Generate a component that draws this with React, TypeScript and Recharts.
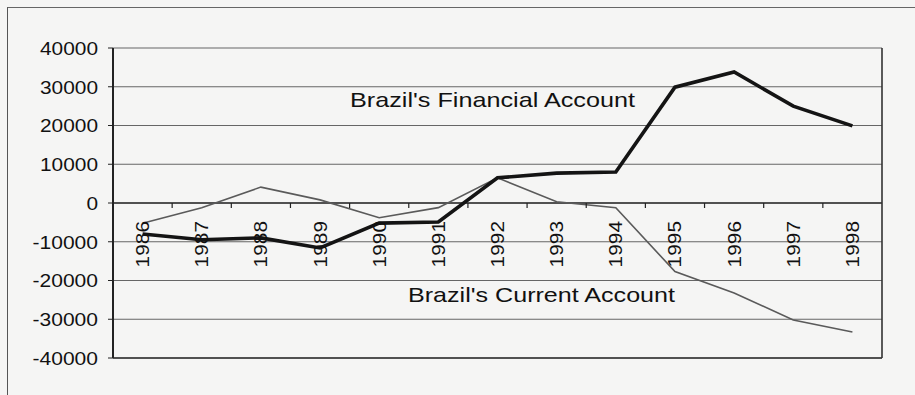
import React from 'react';
import { LineChart, Line, XAxis, YAxis, CartesianGrid, ReferenceLine } from 'recharts';

const years = ['1986', '1987', '1988', '1989', '1990', '1991', '1992', '1993', '1994', '1995', '1996', '1997', '1998'];
const financialAccount = [-8000, -9500, -9000, -11600, -5200, -4900, 6500, 7700, 8000, 29900, 33800, 25000, 19900];
const currentAccount = [-5200, -1200, 4100, 800, -3800, -1200, 6500, 300, -1200, -17700, -23200, -30200, -33300];
const yTicks = [-40000, -30000, -20000, -10000, 0, 10000, 20000, 30000, 40000];

const data = years.map((y, i) => ({ year: y, financial: financialAccount[i], current: currentAccount[i] }));

const W = 915;
const H = 395;
const TOP = 48;
const LEFT = 113;
const RIGHT = 33;
const BOTTOM = 37;
const PLOT_W = W - LEFT - RIGHT;
const PLOT_H = H - TOP - BOTTOM;
const Y_MIN = -40000;
const Y_MAX = 40000;
const ZERO_Y = TOP + (PLOT_H * Y_MAX) / (Y_MAX - Y_MIN);
const BAND = PLOT_W / years.length;
const FONT = 'Liberation Sans, Arial, sans-serif';

// scanned original is a little stretched sideways, so fit each label to its measured width
const labelWidth = (s: string) => s.replace('-', '').length * 11.6 + (s.startsWith('-') ? 7.4 : 0);

const YTick = (props: any) => {
  const { x, y, payload } = props;
  const s = String(payload.value);
  return (
    <text x={x} y={y} dy="0.36em" textAnchor="end" fontSize={19} fontFamily={FONT} fill="#111"
      textLength={labelWidth(s)} lengthAdjust="spacingAndGlyphs">
      {s}
    </text>
  );
};

// x labels sit on the zero line, not at the bottom of the plot
const XTick = (props: any) => {
  const { x, payload, index } = props;
  const s = String(payload.value);
  return (
    <g>
      {index > 0 && (
        <line x1={x - BAND / 2} x2={x - BAND / 2} y1={ZERO_Y} y2={ZERO_Y + 5} stroke="#222" strokeWidth={1.2} />
      )}
      <text transform={`translate(${x + 6.5},${ZERO_Y + 18}) rotate(-90)`} textAnchor="end" fontSize={19}
        fontFamily={FONT} fill="#111" textLength={labelWidth(s)} lengthAdjust="spacingAndGlyphs">
        {s}
      </text>
    </g>
  );
};

export default function App() {
  return (
    <div style={{ position: 'absolute', left: 0, top: 0, width: W, height: H, background: '#f5f5f4', overflow: 'hidden' }}>
      <div style={{ position: 'absolute', left: 7, top: 7, width: W, height: H, borderLeft: '1.5px solid #555', borderTop: '1.5px solid #666' }} />
      <div style={{ position: 'absolute', left: 0, top: 0 }}>
        <LineChart width={W} height={H} data={data} margin={{ top: TOP, right: RIGHT, bottom: 0, left: 0 }}>
          <CartesianGrid vertical={false} stroke="#666" strokeWidth={1.1} />
          {/* plot frame sides */}
          <CartesianGrid horizontal={false} verticalPoints={[LEFT, LEFT + PLOT_W]} stroke="#333" strokeWidth={1.6} />
          <XAxis dataKey="year" height={BOTTOM} axisLine={false} tickLine={false} interval={0} tick={<XTick />}
            padding={{ left: BAND / 2, right: BAND / 2 }} />
          <YAxis domain={[Y_MIN, Y_MAX]} ticks={yTicks} width={LEFT} interval={0} tickSize={5} tickMargin={10}
            axisLine={{ stroke: '#222', strokeWidth: 2 }} tickLine={{ stroke: '#222' }} tick={<YTick />} />
          <ReferenceLine y={0} stroke="#333" strokeWidth={1.3} />
          <ReferenceLine y={Y_MIN} stroke="#333" strokeWidth={1.6} />
          <Line type="linear" dataKey="current" stroke="#5a5a5a" strokeWidth={1.6} dot={false} isAnimationActive={false} />
          <Line type="linear" dataKey="financial" stroke="#141414" strokeWidth={3.6} dot={false} isAnimationActive={false} />
        </LineChart>
      </div>
      <svg width={W} height={H} style={{ position: 'absolute', left: 0, top: 0, pointerEvents: 'none' }}>
        <text x={350} y={107} fontSize={21} fontFamily={FONT} fill="#111" textLength={285} lengthAdjust="spacingAndGlyphs">
          Brazil's Financial Account
        </text>
        <text x={408} y={302} fontSize={21} fontFamily={FONT} fill="#111" textLength={267} lengthAdjust="spacingAndGlyphs">
          Brazil's Current Account
        </text>
      </svg>
    </div>
  );
}
